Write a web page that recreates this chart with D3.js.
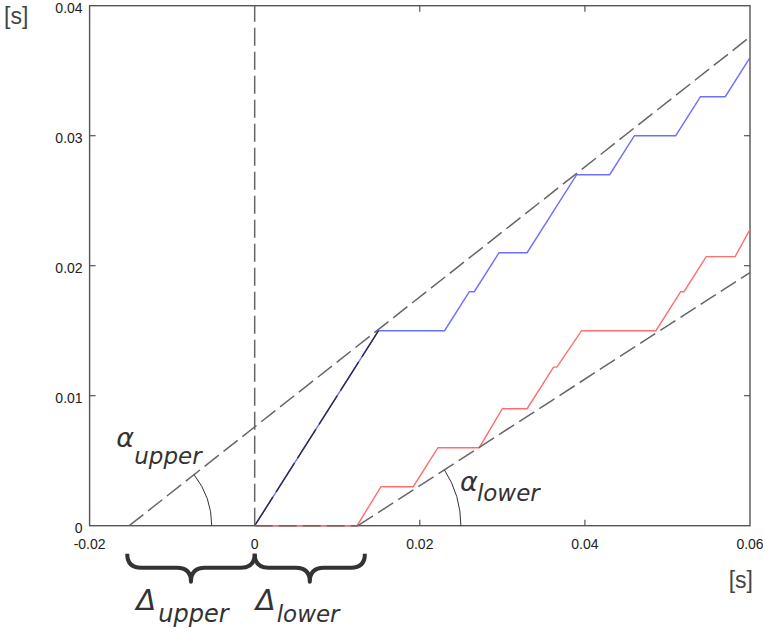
<!DOCTYPE html>
<html>
<head>
<meta charset="utf-8">
<script src="https://cdn.jsdelivr.net/npm/d3@7"></script>
<style>
  body { margin: 0; background: #fff; }
  svg { display: block; font-family: "DejaVu Sans", sans-serif; }
</style>
</head>
<body>
<div id="chart"></div>
<script>
// axis ticks
const xTicks = [-0.02, 0, 0.02, 0.04, 0.06];
const yTicks = [0, 0.01, 0.02, 0.03, 0.04];

// upper (blue) curve
const blueX = [0, 0.015, 0.023, 0.026, 0.0266, 0.0296, 0.033, 0.039, 0.043, 0.046, 0.051, 0.054, 0.057, 0.060];
const blueY = [0, 0.015, 0.015, 0.018, 0.018, 0.021, 0.021, 0.027, 0.027, 0.030, 0.030, 0.033, 0.033, 0.036];

// lower (red) curve
const redX = [0, 0.0124, 0.0153, 0.0192, 0.0222, 0.0272, 0.0300, 0.0330, 0.0362, 0.0366, 0.0396, 0.0486, 0.0516, 0.0520, 0.0547, 0.0582, 0.060];
const redY = [0, 0, 0.003, 0.003, 0.006, 0.006, 0.009, 0.009, 0.0122, 0.0122, 0.015, 0.015, 0.018, 0.018, 0.0207, 0.0207, 0.0228];

// bounding lines: x-intercept and slope
const upperBound = { x0: -0.0152, slope: 0.5 };
const lowerBound = { x0: 0.0125, slope: 0.41 };

const W = 763, H = 634;
const margin = { left: 89.6, right: 13, top: 5.7, bottom: 108.3 };

const svg = d3.select("#chart").append("svg")
    .attr("width", W)
    .attr("height", H);

const x = d3.scaleLinear().domain([-0.02, 0.06]).range([margin.left, W - margin.right]);
const y = d3.scaleLinear().domain([0, 0.04]).range([H - margin.bottom, margin.top]);

const frameColor = "#555";
const dash = "18,6";
const tickFont = "Liberation Sans, Arial, sans-serif";

// frame
svg.append("rect")
    .attr("x", x(-0.02)).attr("y", y(0.04))
    .attr("width", x(0.06) - x(-0.02))
    .attr("height", y(0) - y(0.04))
    .attr("fill", "none")
    .attr("stroke", frameColor)
    .attr("stroke-width", 1.4);

// inward ticks on all four sides
const innerX = xTicks.filter(d => d > -0.02 && d < 0.06 && d !== 0);
const innerY = yTicks.filter(d => d > 0 && d < 0.04);
const tickLen = 6;

svg.append("g").selectAll("line").data(innerX).join("line")
    .attr("x1", d => x(d)).attr("x2", d => x(d))
    .attr("y1", y(0)).attr("y2", y(0) - tickLen)
    .attr("stroke", frameColor).attr("stroke-width", 1.2);
svg.append("g").selectAll("line").data(innerX).join("line")
    .attr("x1", d => x(d)).attr("x2", d => x(d))
    .attr("y1", y(0.04)).attr("y2", y(0.04) + tickLen)
    .attr("stroke", frameColor).attr("stroke-width", 1.2);
svg.append("g").selectAll("line").data(innerY).join("line")
    .attr("x1", x(-0.02)).attr("x2", x(-0.02) + tickLen)
    .attr("y1", d => y(d)).attr("y2", d => y(d))
    .attr("stroke", frameColor).attr("stroke-width", 1.2);
svg.append("g").selectAll("line").data(innerY).join("line")
    .attr("x1", x(0.06)).attr("x2", x(0.06) - tickLen)
    .attr("y1", d => y(d)).attr("y2", d => y(d))
    .attr("stroke", frameColor).attr("stroke-width", 1.2);

// tick labels (plain hyphen minus, as in the original)
svg.append("g").selectAll("text").data(xTicks).join("text")
    .attr("x", d => x(d))
    .attr("y", y(0) + 23)
    .attr("text-anchor", "middle")
    .attr("font-family", tickFont)
    .attr("font-size", 14)
    .attr("fill", "#222")
    .text(d => String(d));
svg.append("g").selectAll("text").data(yTicks).join("text")
    .attr("x", x(-0.02) - 7)
    .attr("y", d => y(d) + 7)
    .attr("text-anchor", "end")
    .attr("font-family", tickFont)
    .attr("font-size", 14)
    .attr("fill", "#222")
    .text(d => String(d));

// units
svg.append("text").attr("x", 4).attr("y", 24)
    .attr("font-family", tickFont)
    .attr("font-size", 23).attr("fill", "#444").text("[s]");
svg.append("text").attr("x", x(0.06) + 3).attr("y", 588)
    .attr("text-anchor", "end")
    .attr("font-family", tickFont)
    .attr("font-size", 23).attr("fill", "#444").text("[s]");

const line = d3.line().x(d => x(d[0])).y(d => y(d[1]));

// data curves
const blue = d3.zip(blueX, blueY);
const red = d3.zip(redX, redY);

svg.append("path").datum(blue)
    .attr("d", line).attr("fill", "none")
    .attr("stroke", "#6e6eff").attr("stroke-width", 1.4);
svg.append("path").datum(red)
    .attr("d", line).attr("fill", "none")
    .attr("stroke", "#ff6e6e").attr("stroke-width", 1.4);

// dark overlay on the first rising segment
svg.append("path").datum(blue.slice(0, 2))
    .attr("d", line).attr("fill", "none")
    .attr("stroke", "#2b2b44").attr("stroke-width", 1.4)
    .attr("stroke-dasharray", "34,6");

// dashed bounds
const upperPts = [upperBound.x0, 0.06].map(v => [v, upperBound.slope * (v - upperBound.x0)]);
const lowerPts = [lowerBound.x0, 0.06].map(v => [v, lowerBound.slope * (v - lowerBound.x0)]);

svg.append("path").datum(upperPts)
    .attr("d", line).attr("fill", "none")
    .attr("stroke", "#666").attr("stroke-width", 1.5)
    .attr("stroke-dasharray", dash);
svg.append("path").datum(lowerPts)
    .attr("d", line).attr("fill", "none")
    .attr("stroke", "#666").attr("stroke-width", 1.5)
    .attr("stroke-dasharray", dash);
svg.append("path").datum([[0, 0], [0, 0.04]])
    .attr("d", line).attr("fill", "none")
    .attr("stroke", "#666").attr("stroke-width", 1.5)
    .attr("stroke-dasharray", dash);
svg.append("path").datum([[0, 0], [lowerBound.x0, 0]])
    .attr("d", line).attr("fill", "none")
    .attr("stroke", "#666").attr("stroke-width", 1.5)
    .attr("stroke-dasharray", dash);

// angle arcs
function angleArc(b, r) {
    const cx = x(b.x0), cy = y(0);
    const dxPx = x(b.x0 + 0.01) - cx;
    const dyPx = y(0) - y(b.slope * 0.01);
    const a = Math.atan2(dyPx, dxPx);
    const p = d3.path();
    p.arc(cx, cy, r, 0, -a, true);
    svg.append("path").attr("d", p.toString())
        .attr("fill", "none").attr("stroke", "#333").attr("stroke-width", 1);
}
angleArc(upperBound, 82.5);
angleArc(lowerBound, 103);

// greek labels with subscripts
function subLabel(bigX, bigY, big, bigSize, subX, subY, sub, subSize) {
    const g = svg.append("g").attr("fill", "#333").attr("font-style", "italic");
    g.append("text").attr("x", bigX).attr("y", bigY)
        .attr("font-size", bigSize).text(big);
    g.append("text").attr("x", subX).attr("y", subY)
        .attr("font-size", subSize).text(sub);
}
const ux = x(upperBound.x0), lx = x(lowerBound.x0), zx = x(0), by = y(0);
subLabel(ux - 13, by - 79, "α", 27, ux + 5, by - 61.5, "upper", 23);
subLabel(lx + 102, by - 35, "α", 27, lx + 119, by - 25, "lower", 23);

// braces under the axis
function brace(x0, x1, top, h) {
    const xm = (x0 + x1) / 2, mid = top + h * 0.5, tip = top + h;
    const r = 14;
    const p = `M${x0},${top} Q${x0},${mid} ${x0 + r},${mid}`
        + ` L${xm - r},${mid} Q${xm},${mid} ${xm},${tip}`
        + ` Q${xm},${mid} ${xm + r},${mid}`
        + ` L${x1 - r},${mid} Q${x1},${mid} ${x1},${top}`;
    svg.append("path").attr("d", p)
        .attr("fill", "none").attr("stroke", "#333")
        .attr("stroke-width", 4).attr("stroke-linejoin", "round");
}
brace(ux - 2, zx, by + 28, 28);
brace(zx, lx + 7, by + 28, 28);

subLabel(ux + 7, by + 84, "Δ", 29, ux + 29, by + 96, "upper", 24);
subLabel(zx + 1, by + 84, "Δ", 29, zx + 22, by + 96, "lower", 23);
</script>
</body>
</html>
